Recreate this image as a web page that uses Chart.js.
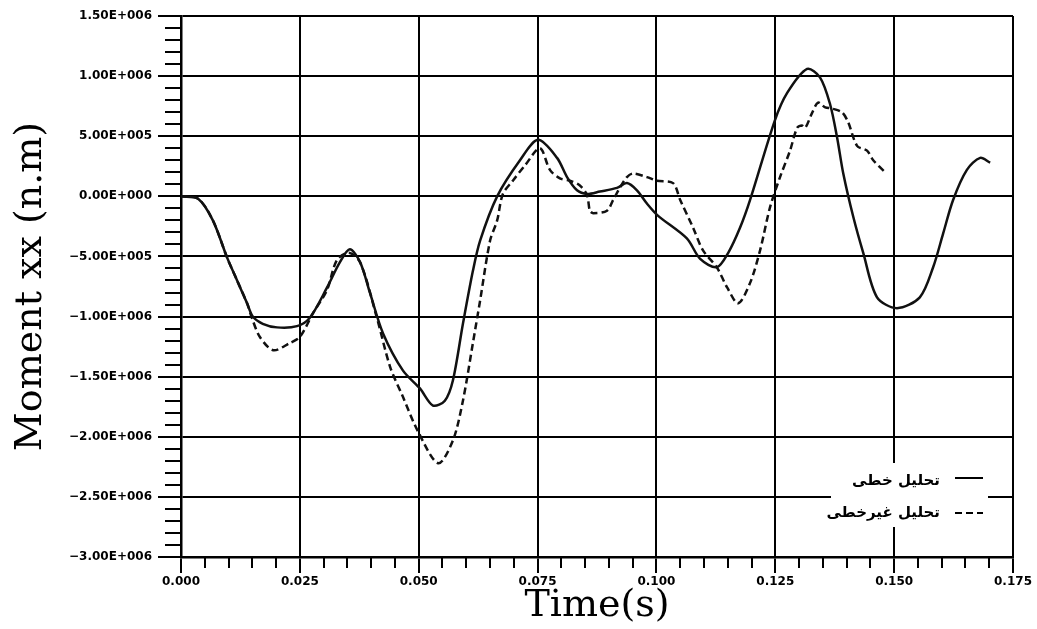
<!DOCTYPE html>
<html>
<head>
<meta charset="utf-8">
<script src="https://cdn.jsdelivr.net/npm/chart.js@4.4.1/dist/chart.umd.min.js"></script>
<style>
  html, body { margin: 0; padding: 0; background: #fff; }
  canvas { display: block; }
</style>
</head>
<body>
<canvas id="momentChart" width="1037" height="629"></canvas>
<script>
// time (s) and moment (x 1e6 n.m)
const timeLinear = [0, 0.0036, 0.0067, 0.0097, 0.0118, 0.0139, 0.0151, 0.0172, 0.0202, 0.0244,
  0.0271, 0.0307, 0.0334, 0.0355, 0.0377, 0.0398, 0.0425, 0.0467, 0.0503, 0.053,
  0.0555, 0.0572, 0.0593, 0.0614, 0.0629, 0.0665, 0.0713, 0.0751, 0.0791, 0.0812,
  0.0833, 0.0854, 0.0881, 0.0917, 0.0938, 0.0959, 0.098, 0.1003, 0.1064, 0.1092,
  0.1127, 0.1151, 0.1176, 0.1197, 0.1249, 0.1275, 0.1317, 0.1344, 0.1365, 0.138,
  0.1393, 0.1414, 0.1435, 0.1464, 0.1506, 0.1554, 0.1582, 0.1603, 0.1624, 0.1653,
  0.1681, 0.1702];
const momentLinear = [0, -0.02, -0.20, -0.51, -0.70, -0.89, -1.00, -1.06, -1.09, -1.08,
  -1.01, -0.76, -0.55, -0.44, -0.55, -0.81, -1.14, -1.45, -1.60, -1.74,
  -1.70, -1.53, -1.06, -0.62, -0.37, 0, 0.30, 0.47, 0.32, 0.16,
  0.05, 0.02, 0.04, 0.07, 0.11, 0.05, -0.06, -0.16, -0.35, -0.52,
  -0.59, -0.47, -0.26, -0.03, 0.63, 0.86, 1.06, 0.99, 0.77, 0.49,
  0.19, -0.17, -0.47, -0.84, -0.93, -0.84, -0.59, -0.31, -0.03, 0.22,
  0.32, 0.28];

const timeNonlinear = [0, 0.0036, 0.0067, 0.0097, 0.0118, 0.0139, 0.0149, 0.0166, 0.0194, 0.0229,
  0.025, 0.0278, 0.0307, 0.0328, 0.0353, 0.0377, 0.0412, 0.044, 0.0467, 0.0499,
  0.0541, 0.0572, 0.0593, 0.0614, 0.0629, 0.065, 0.0665, 0.0677, 0.0698, 0.0724,
  0.0755, 0.0776, 0.0797, 0.0818, 0.0839, 0.0854, 0.086, 0.0867, 0.0896, 0.0909,
  0.0923, 0.0938, 0.0951, 0.098, 0.1001, 0.1035, 0.105, 0.1077, 0.1098, 0.1127,
  0.1149, 0.1172, 0.1197, 0.1218, 0.1239, 0.126, 0.1281, 0.1296, 0.1306, 0.1313,
  0.1327, 0.134, 0.1355, 0.1369, 0.139, 0.1403, 0.1422, 0.1443, 0.1456, 0.1481];
const momentNonlinear = [0, -0.02, -0.20, -0.51, -0.70, -0.89, -1.01, -1.17, -1.28, -1.22,
  -1.17, -0.97, -0.78, -0.53, -0.47, -0.55, -1.01, -1.42, -1.67, -1.96,
  -2.22, -2.03, -1.70, -1.22, -0.87, -0.37, -0.20, 0.02, 0.13, 0.26,
  0.40, 0.22, 0.15, 0.13, 0.09, 0.01, -0.12, -0.14, -0.12, -0.03,
  0.07, 0.16, 0.19, 0.16, 0.13, 0.11, -0.03, -0.26, -0.45, -0.59,
  -0.76, -0.89, -0.72, -0.45, -0.09, 0.16, 0.38, 0.57, 0.59, 0.57,
  0.69, 0.78, 0.74, 0.73, 0.70, 0.62, 0.42, 0.38, 0.30, 0.20];

const seriesLabels = ['تحلیل خطی', 'تحلیل غیرخطی'];

const xTicks = [0, 0.025, 0.05, 0.075, 0.1, 0.125, 0.15, 0.175];
const xTickLabels = ['0.000', '0.025', '0.050', '0.075', '0.100', '0.125', '0.150', '0.175'];
const yTicks = [1.5e6, 1e6, 5e5, 0, -5e5, -1e6, -1.5e6, -2e6, -2.5e6, -3e6];
const yTickLabels = ['1.50E+006', '1.00E+006', '5.00E+005', '0.00E+000', '−5.00E+005',
  '−1.00E+006', '−1.50E+006', '−2.00E+006', '−2.50E+006', '−3.00E+006'];

const xMinorStep = 0.005;
const yMinorStep = 1e5;

function toPoints(times, moments) {
  return times.map((t, i) => ({ x: t, y: moments[i] * 1e6 }));
}

function labelFor(ticks, labels, value) {
  const i = ticks.findIndex(t => Math.abs(t - value) < 1e-9 * Math.max(1, Math.abs(t)));
  return i >= 0 ? labels[i] : '';
}

// small ticks between the major ones, outside the plot
const minorTicks = {
  id: 'minorTicks',
  afterDraw(chart) {
    const { ctx, chartArea: a, scales: { x, y } } = chart;
    ctx.save();
    ctx.strokeStyle = '#000';
    ctx.lineWidth = 2;
    ctx.beginPath();
    const ny = Math.round((y.max - y.min) / yMinorStep);
    for (let i = 0; i <= ny; i++) {
      if (i % 5 === 0) continue;
      const py = Math.round(y.getPixelForValue(y.min + i * yMinorStep));
      ctx.moveTo(a.left - 16, py);
      ctx.lineTo(a.left, py);
    }
    const nx = Math.round((x.max - x.min) / xMinorStep);
    for (let i = 0; i <= nx; i++) {
      if (i % 5 === 0) continue;
      const px = Math.round(x.getPixelForValue(x.min + i * xMinorStep));
      ctx.moveTo(px, a.bottom);
      ctx.lineTo(px, a.bottom + 11);
    }
    ctx.stroke();
    ctx.restore();
  }
};

// legend box sitting inside the plot, bottom right
const boxLegend = {
  id: 'boxLegend',
  afterDraw(chart) {
    const { ctx, chartArea: a } = chart;
    ctx.save();
    ctx.fillStyle = '#fff';
    ctx.fillRect(a.right - 182, a.bottom - 94, 157, 64);
    chart.data.datasets.forEach((ds, i) => {
      const rowY = a.bottom - 79 + i * 35;
      ctx.strokeStyle = '#000';
      ctx.lineWidth = 2;
      ctx.setLineDash(ds.borderDash || []);
      ctx.beginPath();
      ctx.moveTo(a.right - 58, rowY);
      ctx.lineTo(a.right - 30, rowY);
      ctx.stroke();
      ctx.setLineDash([]);
      ctx.fillStyle = '#000';
      ctx.font = 'bold 15px "DejaVu Sans"';
      ctx.direction = 'rtl';
      ctx.textAlign = 'right';
      ctx.textBaseline = 'middle';
      ctx.fillText(ds.label, a.right - 73, rowY + (i === 0 ? 3 : 0));
    });
    ctx.restore();
  }
};

Chart.defaults.color = '#000';

const tickFont = { family: 'DejaVu Sans', size: 12, weight: 'bold' };

new Chart('momentChart', {
  type: 'line',
  data: {
    datasets: [
      {
        label: seriesLabels[0],
        data: toPoints(timeLinear, momentLinear),
        borderColor: '#111',
        borderWidth: 2.5,
        pointRadius: 0,
        tension: 0.3,
        fill: false
      },
      {
        label: seriesLabels[1],
        data: toPoints(timeNonlinear, momentNonlinear),
        borderColor: '#111',
        borderWidth: 2.5,
        borderDash: [7, 4],
        pointRadius: 0,
        tension: 0.3,
        fill: false
      }
    ]
  },
  options: {
    responsive: false,
    animation: false,
    layout: { padding: { top: 16, right: 24, bottom: 0, left: 0 } },
    plugins: {
      legend: { display: false },
      tooltip: { enabled: false }
    },
    scales: {
      x: {
        type: 'linear',
        min: 0,
        max: 0.175,
        afterFit: (s) => { s.height = 72; },
        ticks: {
          stepSize: 0.025,
          padding: 2,
          maxRotation: 0,
          font: tickFont,
          callback: (v) => labelFor(xTicks, xTickLabels, v)
        },
        grid: { color: '#000', lineWidth: 2, tickLength: 16, tickColor: '#000' },
        border: { color: '#000', width: 2.5 },
        title: {
          display: true,
          text: 'Time(s)',
          font: { family: 'DejaVu Serif', size: 38 },
          padding: { top: 0, bottom: 0 }
        }
      },
      y: {
        min: -3e6,
        max: 1.5e6,
        afterFit: (s) => { s.width = 181; },
        ticks: {
          stepSize: 5e5,
          padding: 6,
          font: tickFont,
          callback: (v) => labelFor(yTicks, yTickLabels, v)
        },
        grid: { color: '#000', lineWidth: 2, tickLength: 23, tickColor: '#000' },
        border: { color: '#000', width: 2.5 },
        title: {
          display: true,
          text: 'Moment xx (n.m)',
          font: { family: 'DejaVu Serif', size: 38 },
          padding: { top: 8, bottom: 0 }
        }
      }
    }
  },
  plugins: [minorTicks, boxLegend]
});
</script>
</body>
</html>
